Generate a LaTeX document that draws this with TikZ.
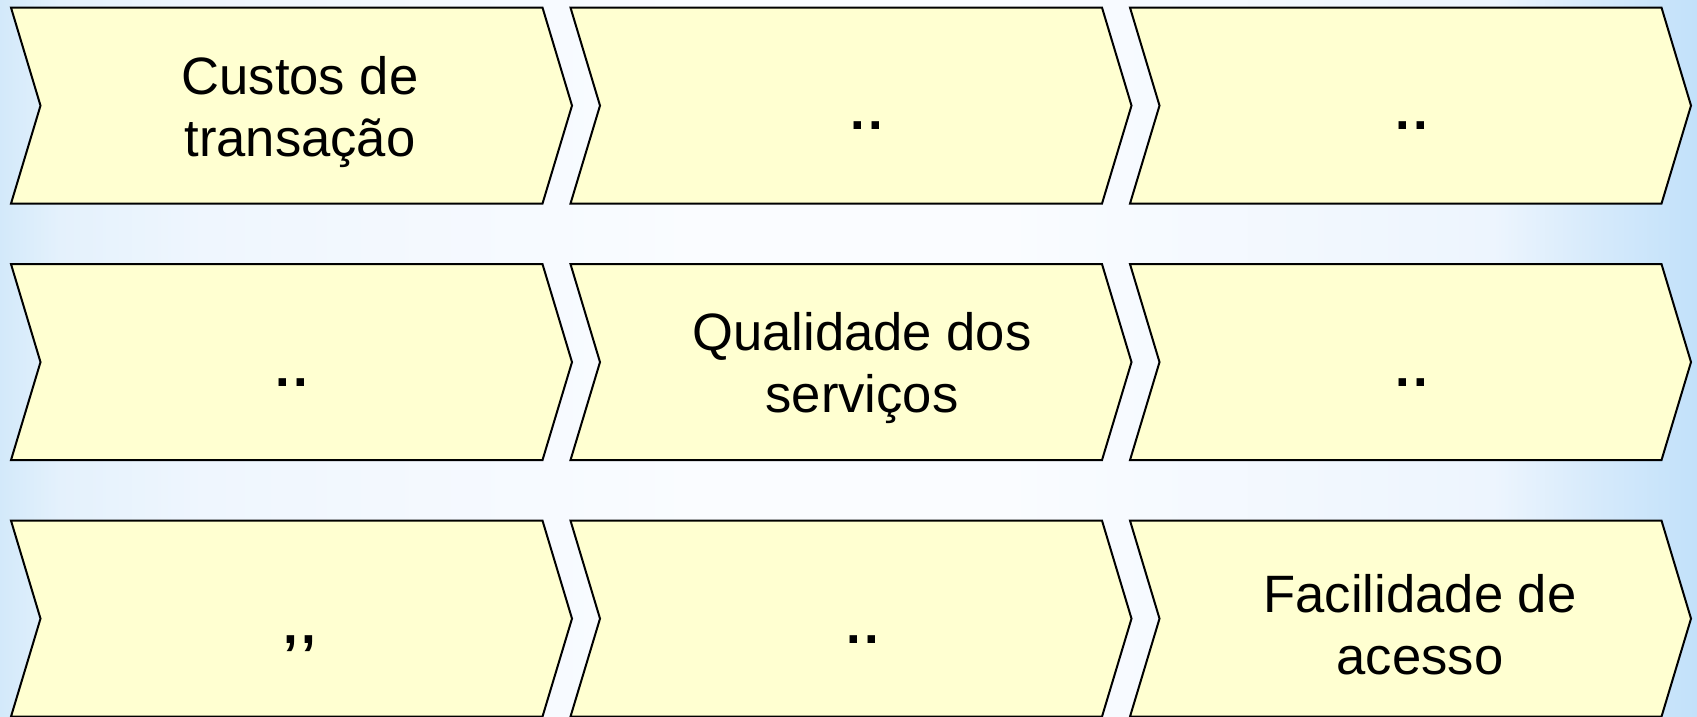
\documentclass[tikz,border=0pt]{standalone}
\usepackage{fontspec}
\setmainfont{Liberation Sans}
\definecolor{chevfill}{HTML}{FFFFD1}
\definecolor{bgA}{HTML}{D3E9FA}
\definecolor{bgB}{HTML}{E4F1FC}
\definecolor{bgC}{HTML}{EFF6FE}
\definecolor{bgD}{HTML}{FAFCFF}
\definecolor{bgE}{HTML}{EDF5FE}
\definecolor{bgF}{HTML}{D6EAFB}
\definecolor{bgG}{HTML}{C2E1FA}
\pgfdeclarehorizontalshading{bgband}{100bp}{color(0bp)=(bgA); color(25bp)=(bgA); color(26.75bp)=(bgB); color(31bp)=(bgC); color(45.5bp)=(bgD); color(54.5bp)=(bgD); color(69bp)=(bgE); color(72bp)=(bgF); color(75bp)=(bgG); color(100bp)=(bgG)}

\begin{document}
\begin{tikzpicture}[x=0.5pt,y=-0.5pt]
	\tikzset{chevron/.style={draw=black,line width=1pt,fill=chevfill,line join=miter}}
	\tikzset{chevtext/.style={align=center,font=\fontsize{26.3}{31}\selectfont}}
	\tikzset{filler/.style={anchor=base,font=\fontsize{26.3}{31}\selectfont\bfseries}}
	\useasboundingbox (0,0) rectangle (1697,717);
	\shade[shading=bgband] (0,0) rectangle (1697,717);
	\foreach \r in {0,1,2}
		\foreach \c in {0,1,2}
			\draw[chevron,shift={(11+559.5*\c,7.6+256.5*\r)}] (0,0) -- (531.5,0) -- (561,98) -- (531.5,196) -- (0,196) -- (29.5,98) -- cycle;
	\node[chevtext] (costs) at (300,111.6) {Custos de\\transação};
	\node[filler] (dots12) at (867,129.5) {.\kern1.6pt.};
	\node[filler] (dots13) at (1412,129.5) {.\kern1.6pt.};
	\node[filler] (dots21) at (292,386) {.\kern1.6pt.};
	\node[chevtext] (quality) at (862,368) {Qualidade dos\\serviços};
	\node[filler] (dots23) at (1412,386) {.\kern1.6pt.};
	\node[filler] (commas31) at (300,643) {,\kern1.6pt,};
	\node[filler] (dots32) at (863,643) {.\kern1.6pt.};
	\node[chevtext] (access) at (1420,624.6) {Facilidade de\\acesso};
\end{tikzpicture}
\end{document}
